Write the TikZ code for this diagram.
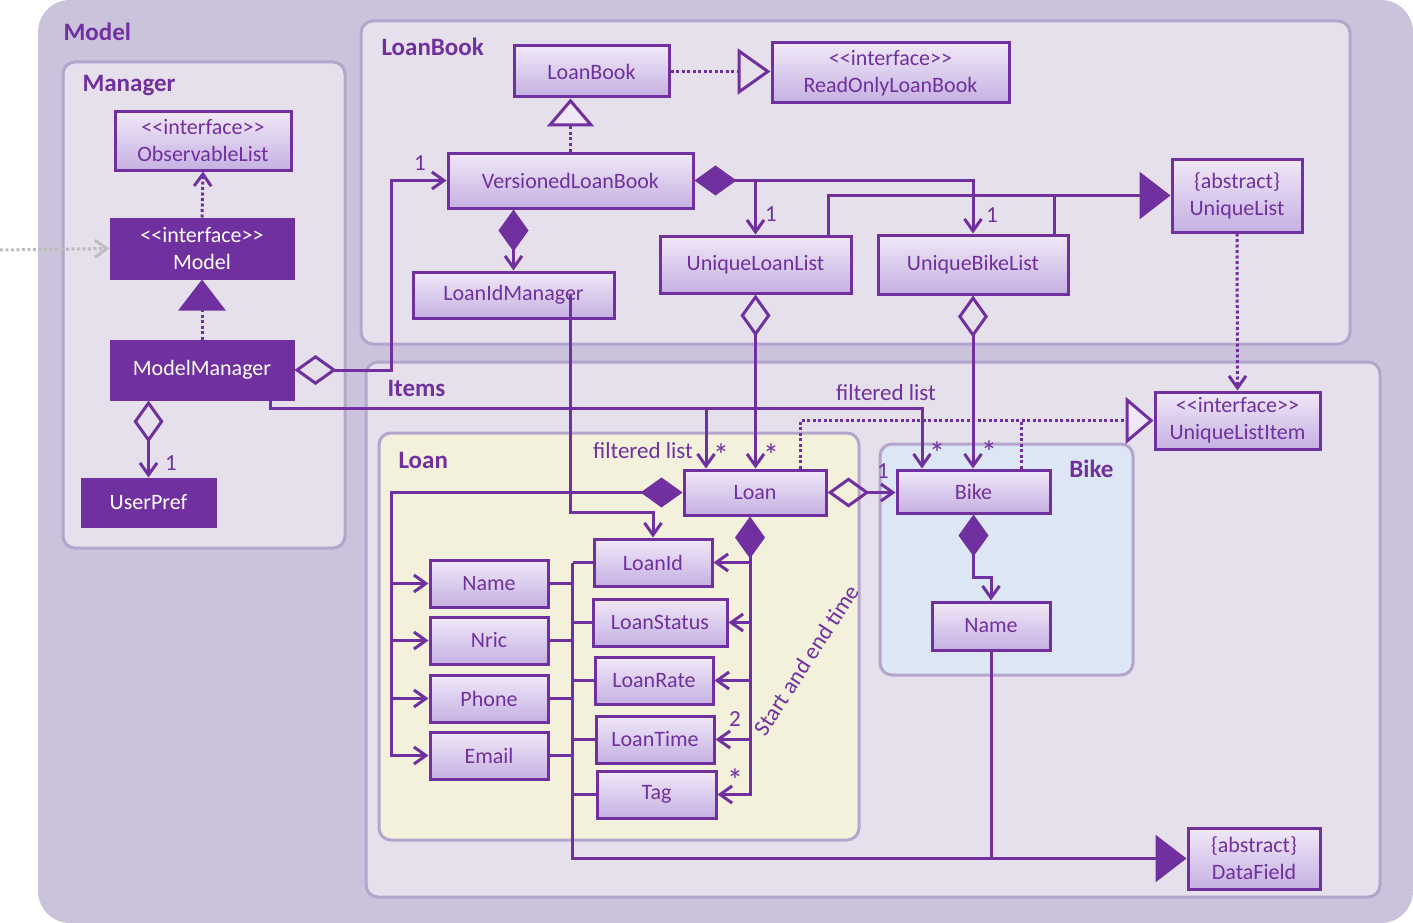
\documentclass[tikz,border=0pt]{standalone}
\usepackage{fontspec}
\setmainfont{Carlito}[Ligatures=TeXOff]
\usepackage{xcolor}
\usepackage{tikz}
\usetikzlibrary{arrows.meta}

\definecolor{umlpurple}{HTML}{7030A0}
\definecolor{modelbg}{HTML}{CBC2DB}
\definecolor{pkgbg}{HTML}{E5E0EC}
\definecolor{pkgline}{HTML}{B4A5CD}
\definecolor{loanbg}{HTML}{F3F0DC}
\definecolor{bikebg}{HTML}{DCE6F4}
\definecolor{clstop}{HTML}{F0E8F8}
\definecolor{clsbot}{HTML}{C6B0E2}
\definecolor{extgray}{HTML}{BDBDBD}

\tikzset{
  pkg/.style={draw=pkgline, line width=3pt, rounded corners=12pt},
  pkglabel/.style={text=umlpurple, font=\bfseries\fontsize{25}{29}\selectfont},
  cls/.style={draw=umlpurple, line width=3pt, top color=clstop, bottom color=clsbot, text=umlpurple, font=\fontsize{22}{27}\selectfont, align=center, inner sep=0pt},
  dcls/.style={draw=umlpurple, line width=3pt, fill=umlpurple, text=white, font=\fontsize{22}{27}\selectfont, align=center, inner sep=0pt},
  conn/.style={draw=umlpurple, line width=3pt},
  dots/.style={conn, dash pattern=on 3pt off 2.5pt},
  mult/.style={text=umlpurple, font=\fontsize{23}{26}\selectfont},
  many/.style={text=umlpurple, font=\fontsize{32}{32}\selectfont, inner sep=0pt},
  nav/.tip={Straight Barb[length=12pt,width=17pt]},
  comp/.tip={Diamond[length=42pt,width=30pt]},
  aggr/.tip={Diamond[open,length=42pt,width=30pt]},
  gen/.tip={Triangle[length=31pt,width=47pt]},
  real/.tip={Triangle[open,length=33pt,width=46pt]},
  realf/.tip={Triangle[fill=clstop,length=28pt,width=47pt]},
}

\begin{document}
\begin{tikzpicture}[x=1pt, y=-1pt]
        \useasboundingbox (0,0) rectangle (1413,923);

        % Model frame and packages
        \fill[modelbg, rounded corners=32pt] (38,0) rectangle (1413,923);
        \node[pkglabel, anchor=west] (modellbl) at (60,32) {Model};
        \filldraw[pkg, fill=pkgbg] (63,62) rectangle (345,548);
        \node[pkglabel, anchor=west] (managerlbl) at (79,86) {Manager};
        \filldraw[pkg, fill=pkgbg] (361,21) rectangle (1350,344);
        \node[pkglabel, anchor=west] (loanbooklbl) at (378,47) {LoanBook};
        \filldraw[pkg, fill=pkgbg] (366,362) rectangle (1380,897);
        \node[pkglabel, anchor=west] (itemslbl) at (384,388) {Items};
        \filldraw[pkg, fill=loanbg] (379,433) rectangle (859,840);
        \node[pkglabel, anchor=west] (loanlbl) at (395,460) {Loan};
        \filldraw[pkg, fill=bikebg] (880,444) rectangle (1133,675);
        \node[pkglabel, anchor=east] (bikelbl) at (1117,469) {Bike};

        % Manager
        \node[cls, minimum width=176pt, minimum height=58pt] (obs) at (203,141) {<<interface>>\\ObservableList};
        \node[dcls, minimum width=182pt, minimum height=59pt] (model) at (202,248.5) {<<interface>>\\Model};
        \node[dcls, minimum width=182pt, minimum height=58pt] (mm) at (202,370) {ModelManager};
        \node[dcls, minimum width=133pt, minimum height=47pt] (up) at (148.5,502.5) {UserPref};

        % LoanBook
        \node[cls, minimum width=155pt, minimum height=51pt] (lb) at (591.5,71.5) {LoanBook};
        \node[cls, minimum width=237pt, minimum height=60pt] (rolb) at (890.5,73) {<<interface>>\\ReadOnlyLoanBook};
        \node[cls, minimum width=245pt, minimum height=55pt] (vlb) at (570.5,180.5) {VersionedLoanBook};
        \node[cls, minimum width=201pt, minimum height=46pt] (lim) at (513.5,295) {LoanIdManager};
        \node[cls, minimum width=191pt, minimum height=57pt] (ull) at (755.5,264.5) {UniqueLoanList};
        \node[cls, minimum width=190pt, minimum height=59pt] (ubl) at (973,264.5) {UniqueBikeList};
        \node[cls, minimum width=130pt, minimum height=73pt] (ul) at (1237,195.5) {\{abstract\}\\UniqueList};

        % Items
        \node[cls, minimum width=165pt, minimum height=57pt] (uli) at (1237.5,420.5) {<<interface>>\\UniqueListItem};
        \node[cls, minimum width=142pt, minimum height=45pt] (loan) at (755,492.5) {Loan};
        \node[cls, minimum width=153pt, minimum height=43pt] (bike) at (973.5,491.5) {Bike};
        \node[cls, minimum width=118pt, minimum height=48pt] (bname) at (991,626) {Name};
        \foreach \n/\t/\y in {name/Name/583.5, nric/Nric/640.5, phone/Phone/698.5, email/Email/755.5}
            \node[cls, minimum width=118pt, minimum height=47pt] (\n) at (489,\y) {\t};
        \node[cls, minimum width=118pt, minimum height=47pt] (lid) at (653,562.5) {LoanId};
        \node[cls, minimum width=134pt, minimum height=47pt] (lstat) at (660,622.5) {LoanStatus};
        \node[cls, minimum width=118pt, minimum height=47pt] (lrate) at (654,680.5) {LoanRate};
        \node[cls, minimum width=118pt, minimum height=47pt] (ltime) at (655,739.5) {LoanTime};
        \node[cls, minimum width=119pt, minimum height=47pt] (tag) at (656.5,794.5) {Tag};
        \node[cls, minimum width=132pt, minimum height=61pt] (df) at (1254,858.5) {\{abstract\}\\DataField};

        % Manager links
        \coordinate (ext) at (0,250);
        \draw[dots, draw=extgray, -nav] (ext) -- (model.west);
        \draw[dots, -nav] (model.north) -- (obs.south);
        \draw[dots, -gen] (mm.north) -- (model.south);
        \draw[conn, aggr-nav] (mm.south -| up.north) -- (up.north);
        \node[mult] at (171,463) {1};
        \draw[conn, aggr-nav] (mm.east) -- ++(97,0) |- (vlb.west);
        \node[mult] at (420,163) {1};
        \draw[conn, -nav] ([xshift=68pt]mm.south) -- ++(0,8) -| ([xshift=-49pt]loan.north);
        \draw[conn, -nav] ([xshift=68pt]mm.south) -- ++(0,8) -| ([xshift=-51.5pt]bike.north);
        \node[mult] at (643,451) {filtered list};
        \node[many] at (721,455) {*};
        \node[mult] at (886,393) {filtered list};
        \node[many] at (937,453) {*};

        % LoanBook links
        \draw[dots, -real] (lb.east) -- (lb.east -| rolb.west);
        \draw[dots, -realf] (vlb.north) -- (vlb.north |- lb.south);
        \draw[conn, comp-nav] (vlb.south -| lim.north) -- (lim.north);
        \draw[conn, comp-nav] (vlb.east) -| (ubl.north);
        \draw[conn, -nav] (ull.north |- vlb.east) -- (ull.north);
        \node[mult] at (771,214) {1};
        \node[mult] at (992,215) {1};
        \draw[conn, -gen] ([xshift=72.5pt]ull.north) |- (ul.west);
        \draw[conn] ([xshift=81pt]ubl.north) -- ([xshift=81pt]ubl.north |- ul.west);
        \draw[dots, -nav] (ul.south) -- (uli.north);

        % Items links
        \draw[dots, -realf] ([xshift=45pt]loan.north) |- (uli.west);
        \draw[dots] ([xshift=47.5pt]bike.north) -- ([xshift=47.5pt]bike.north |- uli.west);
        \draw[conn, aggr-nav] (ull.south) -- (ull.south |- loan.north);
        \node[many] at (771,455) {*};
        \draw[conn, aggr-nav] (ubl.south) -- (ubl.south |- bike.north);
        \node[many] at (989,452) {*};
        \draw[conn, aggr-nav] (loan.east) -- (loan.east -| bike.west);
        \node[mult] at (883,471) {1};
        \draw[conn, -nav] ([xshift=56.5pt]lim.center) -- ++(0,217) -| (lid.north);
        \draw[conn, comp-nav] (loan.west) -| ([xshift=-37pt]email.west) -- (email.west);
        \foreach \n in {name,nric,phone}
            \draw[conn, -nav] ([xshift=-37pt]\n.west) -- (\n.west);
        \draw[conn, comp-nav] ([xshift=-5pt]loan.south) |- (tag.east);
        \foreach \n in {lid,lstat,lrate,ltime}
            \draw[conn, -nav] ([xshift=-5pt]loan.south |- \n.east) -- (\n.east);
        \node[mult] at (735,719) {2};
        \node[many] at (735,780) {*};
        \node[mult, rotate=57] at (806,660) {Start and end time};
        \draw[conn, comp-nav] (bike.south) -- ++(0,63) -| (bname.north);

        % DataField
        \draw[conn, -gen] ([xshift=23pt]name.east) |- (df.west);
        \foreach \n in {name,nric,phone,email}
            \draw[conn] (\n.east) -- ++(23,0);
        \draw[conn] ([xshift=-20pt]lid.west) -- ([xshift=-20pt]lid.west |- df.west);
        \foreach \n in {lid,lstat,lrate,ltime,tag}
            \draw[conn] ([xshift=-20pt]lid.west |- \n.west) -- (\n.west);
        \draw[conn] (bname.south) -- (bname.south |- df.west);
\end{tikzpicture}
\end{document}
